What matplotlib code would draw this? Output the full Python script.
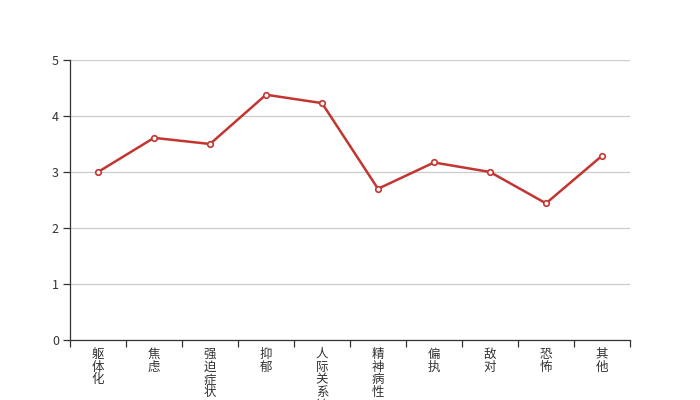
import matplotlib
matplotlib.use('Agg')
import matplotlib.pyplot as plt
import matplotlib.transforms as mtransforms

plt.rcParams['font.family'] = ['Noto Sans CJK SC', 'DejaVu Sans']

categories = ['躯体化', '焦虑', '强迫症状', '抑郁', '人际关系敏感',
              '精神病性', '偏执', '敌对', '恐怖', '其他']
values = [3.0, 3.61, 3.5, 4.38, 4.23, 2.70, 3.17, 3.0, 2.44, 3.29]
y_ticks = [0, 1, 2, 3, 4, 5]

fig = plt.figure(figsize=(7, 4), dpi=100)
ax = fig.add_axes([0.1, 0.15, 0.8, 0.7])

x = list(range(len(categories)))
ax.plot(x, values, color='#c23531', linewidth=1.8, marker='o', markersize=4,
        markerfacecolor='white', markeredgecolor='#c23531', markeredgewidth=1.2,
        zorder=3)

ax.set_xlim(-0.5, len(categories) - 0.5)
ax.set_ylim(0, 5)
ax.set_yticks(y_ticks)
ax.set_yticklabels([str(v) for v in y_ticks], fontsize=9, color='#333333')
ax.grid(axis='y', color='#cccccc', linewidth=0.9)
ax.set_axisbelow(True)

# category boundaries as tick marks
ax.set_xticks([i - 0.5 for i in range(len(categories) + 1)])
ax.set_xticklabels([])
ax.tick_params(axis='x', length=5, width=0.9, color='#333333', direction='out')
ax.tick_params(axis='y', length=5, width=0.9, color='#333333', direction='out', pad=3)

for side in ['top', 'right']:
    ax.spines[side].set_visible(False)
for side in ['left', 'bottom']:
    ax.spines[side].set_color('#333333')
    ax.spines[side].set_linewidth(0.9)

# vertical category labels, one character per line
trans = mtransforms.blended_transform_factory(ax.transData, ax.transAxes)
for i, name in enumerate(categories):
    ax.text(i, -0.028, '\n'.join(name), transform=trans, ha='center', va='top',
            fontsize=9, color='#333333', linespacing=0.98)

fig.savefig('out.png', dpi=100)
